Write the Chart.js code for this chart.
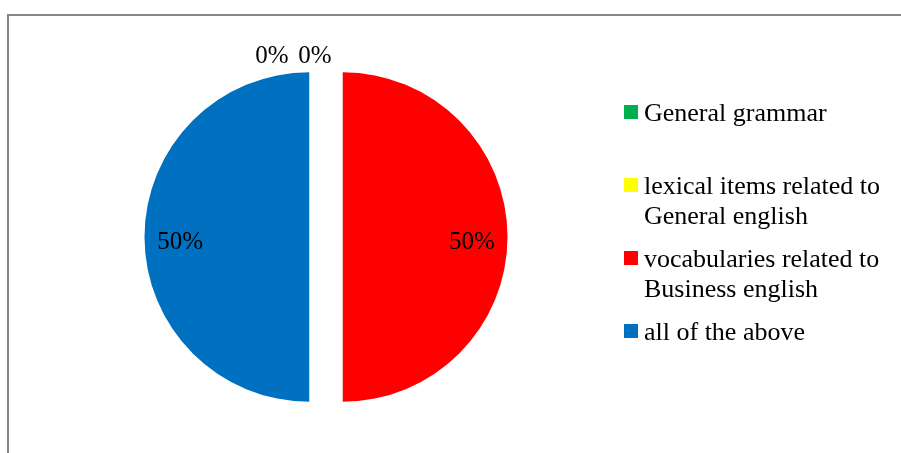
<!DOCTYPE html>
<html>
<head>
<meta charset="utf-8">
<script src="https://cdn.jsdelivr.net/npm/chart.js@4.4.0/dist/chart.umd.min.js"></script>
<style>
  html, body { margin: 0; padding: 0; background: #fff; }
  canvas { display: block; }
</style>
</head>
<body>
<canvas id="canvas" width="901" height="453"></canvas>
<script>
const categories = [
	"General grammar",
	"lexical items related to General english",
	"vocabularies related to Business english",
	"all of the above",
];
const values = [0, 0, 50, 50];
const colors = ["#00B050", "#FFFF00", "#FF0000", "#0070C0"];
const FONT = '"Liberation Serif", "Times New Roman", serif';

const total = values.reduce((a, b) => a + b, 0);

function wrap(ctx, text, maxWidth) {
	const words = text.split(" ");
	const lines = [];
	let line = "";
	words.forEach((w) => {
		const test = line ? line + " " + w : w;
		if (ctx.measureText(test).width > maxWidth && line) {
			lines.push(line);
			line = w;
		} else {
			line = test;
		}
	});
	if (line) lines.push(line);
	return lines;
}

// gray frame of the original (only top and left edges are visible)
const frame = {
	id: "frame",
	beforeDraw(chart) {
		const { ctx } = chart;
		ctx.save();
		ctx.fillStyle = "#878787";
		ctx.fillRect(7, 14, chart.width, 2);
		ctx.fillRect(7, 14, 2, chart.height);
		ctx.restore();
	},
};

// percentage labels, Excel style
const pctLabels = {
	id: "pctLabels",
	afterDatasetsDraw(chart) {
		const { ctx } = chart;
		const meta = chart.getDatasetMeta(0);
		let zeroIdx = 0;
		const zeroShift = [-54, -11];
		ctx.save();
		ctx.font = `25px ${FONT}`;
		ctx.fillStyle = "#000";
		ctx.textAlign = "center";
		ctx.textBaseline = "alphabetic";
		meta.data.forEach((arc, i) => {
			const txt = Math.round((values[i] / total) * 100) + "%";
			const off = (arc.options.offset || 0) / 4;
			const R = arc.outerRadius + off;
			if (values[i] === 0) {
				ctx.fillText(txt, arc.x + zeroShift[zeroIdx++], arc.y - R - 8);
				return;
			}
			const mid = (arc.startAngle + arc.endAngle) / 2;
			const r = off + R * 0.78;
			ctx.fillText(txt, arc.x + Math.cos(mid) * r, arc.y + Math.sin(mid) * r + 12);
		});
		ctx.restore();
	},
};

const legendRight = {
	id: "legendRight",
	afterDraw(chart) {
		const { ctx } = chart;
		ctx.save();
		ctx.font = `26px ${FONT}`;
		ctx.textBaseline = "alphabetic";
		categories.forEach((name, i) => {
			const base = 121 + 73 * i;
			ctx.fillStyle = colors[i];
			ctx.fillRect(624, base - 16, 14, 14);
			ctx.fillStyle = "#000";
			wrap(ctx, name, 252).forEach((line, j) => ctx.fillText(line, 644, base + 30 * j));
		});
		ctx.restore();
	},
};

const canvas = document.getElementById("canvas");
const grafico = new Chart(canvas, {
	type: "pie",
	data: {
		labels: categories,
		datasets: [
			{
				data: values,
				backgroundColor: colors,
				borderWidth: 0,
				offset: 67,
				// small negative spacing cancels the angle trim that offset adds,
				// so the cut edges stay vertical
				spacing: -1.7,
				radius: 148.85,
			},
		],
	},
	options: {
		responsive: false,
		animation: false,
		events: [],
		layout: { padding: { left: 0, right: 249, top: 21, bottom: 0 } },
		plugins: {
			legend: { display: false },
			tooltip: { enabled: false },
		},
	},
	plugins: [frame, pctLabels, legendRight],
});
</script>
</body>
</html>
